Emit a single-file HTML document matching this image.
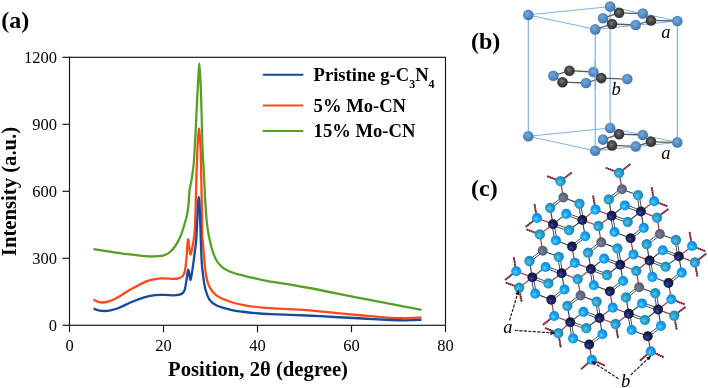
<!DOCTYPE html>
<html><head><meta charset="utf-8"><title>figure</title>
<style>html,body{margin:0;padding:0;background:#fff;}body{width:708px;height:388px;overflow:hidden;font-family:"Liberation Serif",serif;}svg{display:block;will-change:transform;}text{font-family:"Liberation Serif",serif;fill:#000;}</style></head><body>
<svg width="708" height="388" viewBox="0 0 708 388">
<rect x="0" y="0" width="708" height="388" fill="#ffffff"/>
<defs>
<radialGradient id="gT" cx="0.42" cy="0.58" r="0.62" fx="0.42" fy="0.58"><stop offset="0" stop-color="#55c6ea"/><stop offset="0.45" stop-color="#2a9fcf"/><stop offset="1" stop-color="#1b7fb0"/></radialGradient>
<radialGradient id="gB" cx="0.42" cy="0.58" r="0.62" fx="0.42" fy="0.58"><stop offset="0" stop-color="#58dcff"/><stop offset="0.38" stop-color="#1ea6f4"/><stop offset="1" stop-color="#1080da"/></radialGradient>
<radialGradient id="gK" cx="0.4" cy="0.62" r="0.62" fx="0.4" fy="0.62"><stop offset="0" stop-color="#3d62d8"/><stop offset="0.22" stop-color="#23307a"/><stop offset="0.6" stop-color="#191c4a"/><stop offset="1" stop-color="#14163c"/></radialGradient>
<radialGradient id="gG" cx="0.42" cy="0.58" r="0.62" fx="0.42" fy="0.58"><stop offset="0" stop-color="#7f869a"/><stop offset="0.5" stop-color="#626a80"/><stop offset="1" stop-color="#535a70"/></radialGradient>
<radialGradient id="gP" cx="0.42" cy="0.4" r="0.62" fx="0.42" fy="0.4"><stop offset="0" stop-color="#76a8d8"/><stop offset="0.5" stop-color="#578fc6"/><stop offset="0.85" stop-color="#467db5"/><stop offset="1" stop-color="#3a70a8"/></radialGradient>
<radialGradient id="gD" cx="0.45" cy="0.42" r="0.62" fx="0.45" fy="0.42"><stop offset="0" stop-color="#7a7a7a"/><stop offset="0.45" stop-color="#474747"/><stop offset="1" stop-color="#2e2e2e"/></radialGradient>
</defs>
<g id="chart">
<rect x="69.5" y="57.3" width="376" height="268" fill="none" stroke="#141414" stroke-width="1.15"/>
<line x1="62.5" y1="325.3" x2="69.5" y2="325.3" stroke="#141414" stroke-width="1.15"/>
<text x="57" y="330.7" font-size="16.5" text-anchor="end">0</text>
<line x1="62.5" y1="258.3" x2="69.5" y2="258.3" stroke="#141414" stroke-width="1.15"/>
<text x="57" y="263.7" font-size="16.5" text-anchor="end">300</text>
<line x1="62.5" y1="191.3" x2="69.5" y2="191.3" stroke="#141414" stroke-width="1.15"/>
<text x="57" y="196.7" font-size="16.5" text-anchor="end">600</text>
<line x1="62.5" y1="124.3" x2="69.5" y2="124.3" stroke="#141414" stroke-width="1.15"/>
<text x="57" y="129.7" font-size="16.5" text-anchor="end">900</text>
<line x1="62.5" y1="57.3" x2="69.5" y2="57.3" stroke="#141414" stroke-width="1.15"/>
<text x="57" y="62.7" font-size="16.5" text-anchor="end">1200</text>
<line x1="69.5" y1="325.3" x2="69.5" y2="332.3" stroke="#141414" stroke-width="1.15"/>
<text x="69.5" y="350.6" font-size="16.5" text-anchor="middle">0</text>
<line x1="163.5" y1="325.3" x2="163.5" y2="332.3" stroke="#141414" stroke-width="1.15"/>
<text x="163.5" y="350.6" font-size="16.5" text-anchor="middle">20</text>
<line x1="257.5" y1="325.3" x2="257.5" y2="332.3" stroke="#141414" stroke-width="1.15"/>
<text x="257.5" y="350.6" font-size="16.5" text-anchor="middle">40</text>
<line x1="351.5" y1="325.3" x2="351.5" y2="332.3" stroke="#141414" stroke-width="1.15"/>
<text x="351.5" y="350.6" font-size="16.5" text-anchor="middle">60</text>
<line x1="445.5" y1="325.3" x2="445.5" y2="332.3" stroke="#141414" stroke-width="1.15"/>
<text x="445.5" y="350.6" font-size="16.5" text-anchor="middle">80</text>
<path d="M93.5,249.2C96.25,249.62 104.85,250.93 110,251.7C115.15,252.47 118.13,253.02 124.4,253.8C130.67,254.58 141.67,256.03 147.6,256.4C153.53,256.77 157.1,256.23 160,256C162.9,255.77 163.33,255.67 165,255C166.67,254.33 168.28,253.5 170,252C171.72,250.5 173.57,248.58 175.3,246C177.03,243.42 178.93,239.92 180.4,236.5C181.87,233.08 183,229.08 184.1,225.5C185.2,221.92 186.25,218.75 187,215C187.75,211.25 188.17,207.17 188.6,203C189.03,198.83 189.12,193.83 189.6,190C190.08,186.17 190.83,184.17 191.5,180C192.17,175.83 193.08,170 193.6,165C194.12,160 194.25,155.83 194.6,150C194.95,144.17 195.28,138.33 195.7,130C196.12,121.67 196.67,108.67 197.1,100C197.53,91.33 197.93,84.08 198.3,78C198.67,71.92 198.97,63.5 199.3,63.5C199.63,63.5 199.98,71.92 200.3,78C200.62,84.08 200.92,91.33 201.2,100C201.48,108.67 201.77,121.67 202,130C202.23,138.33 202.32,143.33 202.6,150C202.88,156.67 203.35,163.33 203.7,170C204.05,176.67 204.43,184.67 204.7,190C204.97,195.33 204.95,196.67 205.3,202C205.65,207.33 206.23,216.5 206.8,222C207.37,227.5 208.13,231.67 208.7,235C209.27,238.33 209.68,239.75 210.2,242C210.72,244.25 211.25,246.53 211.8,248.5C212.35,250.47 212.67,251.72 213.5,253.8C214.33,255.88 215.42,258.83 216.8,261C218.18,263.17 219.85,265.13 221.8,266.8C223.75,268.47 225.72,269.73 228.5,271C231.28,272.27 234.6,273.28 238.5,274.4C242.4,275.52 247.43,276.67 251.9,277.7C256.37,278.73 256.2,278.97 265.3,280.6C274.4,282.23 290.22,284.5 306.5,287.5C322.78,290.5 343.83,294.87 363,298.6C382.17,302.33 411.75,308.02 421.5,309.9" fill="none" stroke="#589f28" stroke-width="2.3" stroke-linejoin="round" stroke-linecap="butt"/>
<path d="M93.5,299.4C94.17,299.77 96,301.08 97.5,301.6C99,302.12 100.58,302.55 102.5,302.5C104.42,302.45 106.63,302.03 109,301.3C111.37,300.57 112.83,300.22 116.7,298.1C120.57,295.98 127.05,291.48 132.2,288.6C137.35,285.72 142.88,282.5 147.6,280.8C152.32,279.1 156.2,278.73 160.5,278.4C164.8,278.07 170.42,278.82 173.4,278.8C176.38,278.78 176.88,278.72 178.4,278.3C179.92,277.88 181.47,277.35 182.5,276.3C183.53,275.25 183.98,274.38 184.6,272C185.22,269.62 185.77,266 186.2,262C186.63,258 186.88,251.78 187.2,248C187.52,244.22 187.78,239.63 188.1,239.3C188.42,238.97 188.72,243.5 189.1,246C189.48,248.5 189.95,253.55 190.4,254.3C190.85,255.05 191.32,252.55 191.8,250.5C192.28,248.45 192.8,245.42 193.3,242C193.8,238.58 194.4,236.17 194.8,230C195.2,223.83 195.42,214.17 195.7,205C195.98,195.83 196.22,184.17 196.5,175C196.78,165.83 197.12,156.5 197.4,150C197.68,143.5 197.93,139.6 198.2,136C198.47,132.4 198.73,128.4 199,128.4C199.27,128.4 199.52,132.4 199.8,136C200.08,139.6 200.47,143.5 200.7,150C200.93,156.5 201.02,165.83 201.2,175C201.38,184.17 201.62,195 201.8,205C201.98,215 202.07,228.17 202.3,235C202.53,241.83 202.88,242.17 203.2,246C203.52,249.83 203.72,253.08 204.2,258C204.68,262.92 205.2,270.65 206.1,275.5C207,280.35 207.83,283.75 209.6,287.1C211.37,290.45 213.15,293.12 216.7,295.6C220.25,298.08 226.17,300.38 230.9,302C235.63,303.62 240.25,304.4 245.1,305.3C249.95,306.2 254.48,306.85 260,307.4C265.52,307.95 270.45,308.15 278.2,308.6C285.95,309.05 297.08,309.4 306.5,310.1C315.92,310.8 325.28,311.9 334.7,312.8C344.12,313.7 353.58,314.67 363,315.5C372.42,316.33 384.13,317.37 391.2,317.8C398.27,318.23 400.35,318.15 405.4,318.1C410.45,318.05 418.82,317.6 421.5,317.5" fill="none" stroke="#fb4a1c" stroke-width="2.3" stroke-linejoin="round" stroke-linecap="butt"/>
<path d="M93.5,308.5C94.33,308.8 96.57,309.88 98.5,310.3C100.43,310.72 102.93,311.03 105.1,311C107.27,310.97 109.13,310.65 111.5,310.1C113.87,309.55 115.43,309.27 119.3,307.7C123.17,306.13 129.55,302.68 134.7,300.7C139.85,298.72 145.47,296.78 150.2,295.8C154.93,294.82 159.23,294.88 163.1,294.8C166.97,294.72 170.85,295.28 173.4,295.3C175.95,295.32 176.83,295.28 178.4,294.9C179.97,294.52 181.73,293.9 182.8,293C183.87,292.1 184.18,291.67 184.8,289.5C185.42,287.33 186.05,282.75 186.5,280C186.95,277.25 187.18,274.7 187.5,273C187.82,271.3 188.1,269.63 188.4,269.8C188.7,269.97 188.98,272.32 189.3,274C189.62,275.68 189.92,279.73 190.3,279.9C190.68,280.07 191.1,277.75 191.6,275C192.1,272.25 192.77,267.23 193.3,263.4C193.83,259.57 194.32,255.9 194.8,252C195.28,248.1 195.78,245.33 196.2,240C196.62,234.67 196.98,226.17 197.3,220C197.62,213.83 197.85,206.87 198.1,203C198.35,199.13 198.57,196.8 198.8,196.8C199.03,196.8 199.27,199.13 199.5,203C199.73,206.87 199.98,213.83 200.2,220C200.42,226.17 200.53,232.77 200.8,240C201.07,247.23 201.38,257.23 201.8,263.4C202.22,269.57 202.7,272.7 203.3,277C203.9,281.3 204.35,285.4 205.4,289.2C206.45,293 207.72,297.08 209.6,299.8C211.48,302.52 213.15,303.83 216.7,305.5C220.25,307.17 226.17,308.72 230.9,309.8C235.63,310.88 240.25,311.38 245.1,312C249.95,312.62 254.48,313.12 260,313.5C265.52,313.88 270.45,313.97 278.2,314.3C285.95,314.63 297.08,315.05 306.5,315.5C315.92,315.95 325.28,316.5 334.7,317C344.12,317.5 353.58,318 363,318.5C372.42,319 384.13,319.7 391.2,320C398.27,320.3 400.35,320.33 405.4,320.3C410.45,320.27 418.82,319.88 421.5,319.8" fill="none" stroke="#17499c" stroke-width="2.3" stroke-linejoin="round" stroke-linecap="butt"/>
<line x1="262.8" y1="74.8" x2="303.3" y2="74.8" stroke="#17499c" stroke-width="2"/>
<line x1="262.8" y1="105.6" x2="303.3" y2="105.6" stroke="#fb4a1c" stroke-width="2"/>
<line x1="262.8" y1="131" x2="303.3" y2="131" stroke="#589f28" stroke-width="2"/>
<text x="313.6" y="80.8" font-size="18.6" font-weight="bold">Pristine g-C<tspan dy="6.8" font-size="12">3</tspan><tspan dy="-6.8" font-size="18.6">N</tspan><tspan dy="6.8" font-size="12">4</tspan></text>
<text x="313.6" y="112.1" font-size="18.6" font-weight="bold">5% Mo-CN</text>
<text x="313.6" y="137.1" font-size="18.6" font-weight="bold">15% Mo-CN</text>
<text x="258" y="376.1" font-size="20.7" font-weight="bold" text-anchor="middle">Position, 2θ (degree)</text>
<text transform="translate(15.6,191.5) rotate(-90)" font-size="20.7" font-weight="bold" text-anchor="middle">Intensity (a.u.)</text>
</g>
<text x="1.2" y="27.8" font-size="24" font-weight="bold">(a)</text>
<text x="471.0" y="48.7" font-size="24" font-weight="bold">(b)</text>
<text x="471.0" y="196.1" font-size="24" font-weight="bold">(c)</text>
<g id="cell">
<line x1="528.3" y1="14.9" x2="610.1" y2="6.6" stroke="#78ade0" stroke-width="0.95" />
<line x1="528.3" y1="136.3" x2="610.1" y2="128" stroke="#78ade0" stroke-width="0.95" />
<line x1="610.1" y1="6.6" x2="677.3" y2="21" stroke="#78ade0" stroke-width="0.95" />
<line x1="610.1" y1="128" x2="677.3" y2="142.4" stroke="#78ade0" stroke-width="0.95" />
<line x1="528.3" y1="14.9" x2="595.2" y2="29.4" stroke="#78ade0" stroke-width="0.95" />
<line x1="528.3" y1="136.3" x2="595.2" y2="150.8" stroke="#78ade0" stroke-width="0.95" />
<line x1="595.2" y1="29.4" x2="677.3" y2="21" stroke="#78ade0" stroke-width="0.95" />
<line x1="595.2" y1="150.8" x2="677.3" y2="142.4" stroke="#78ade0" stroke-width="0.95" />
<line x1="528.3" y1="14.9" x2="528.3" y2="136.3" stroke="#78ade0" stroke-width="1.1" />
<line x1="610.1" y1="6.6" x2="610.1" y2="128" stroke="#78ade0" stroke-width="1.1" />
<line x1="595.2" y1="29.4" x2="595.2" y2="150.8" stroke="#78ade0" stroke-width="1.1" />
<line x1="677.3" y1="21" x2="677.3" y2="142.4" stroke="#78ade0" stroke-width="1.1" />
<line x1="603" y1="18.2" x2="619.1" y2="12.8" stroke="#5c5c5c" stroke-width="1.3" />
<line x1="619.1" y1="12.8" x2="642.8" y2="13.6" stroke="#5c5c5c" stroke-width="1.3" />
<line x1="642.8" y1="13.6" x2="651" y2="20.4" stroke="#5c5c5c" stroke-width="1.3" />
<line x1="651" y1="20.4" x2="635.7" y2="25" stroke="#5c5c5c" stroke-width="1.3" />
<line x1="635.7" y1="25" x2="612" y2="24" stroke="#5c5c5c" stroke-width="1.3" />
<line x1="612" y1="24" x2="603" y2="18.2" stroke="#5c5c5c" stroke-width="1.3" />
<line x1="651" y1="20.4" x2="677.3" y2="21" stroke="#5c5c5c" stroke-width="1.3" />
<line x1="612" y1="24" x2="595.2" y2="29.4" stroke="#5c5c5c" stroke-width="1.3" />
<line x1="619.1" y1="12.8" x2="610.1" y2="6.6" stroke="#5c5c5c" stroke-width="1.3" />
<circle cx="610.1" cy="6.6" r="5.3" fill="url(#gP)"/>
<circle cx="603" cy="18.2" r="5.3" fill="url(#gP)"/>
<circle cx="619.1" cy="12.8" r="5.3" fill="url(#gD)"/>
<circle cx="642.8" cy="13.6" r="5.3" fill="url(#gP)"/>
<circle cx="612" cy="24" r="5.3" fill="url(#gD)"/>
<circle cx="635.7" cy="25" r="5.3" fill="url(#gP)"/>
<circle cx="651" cy="20.4" r="5.3" fill="url(#gD)"/>
<circle cx="595.2" cy="29.4" r="5.3" fill="url(#gP)"/>
<circle cx="677.3" cy="21" r="5.3" fill="url(#gP)"/>
<circle cx="528.3" cy="14.9" r="5.3" fill="url(#gP)"/>
<line x1="553.3" y1="75.8" x2="569.4" y2="70.7" stroke="#5c5c5c" stroke-width="1.3" />
<line x1="569.4" y1="70.7" x2="593.4" y2="72" stroke="#5c5c5c" stroke-width="1.3" />
<line x1="593.4" y1="72" x2="601.3" y2="78.1" stroke="#5c5c5c" stroke-width="1.3" />
<line x1="601.3" y1="78.1" x2="586" y2="83" stroke="#5c5c5c" stroke-width="1.3" />
<line x1="586" y1="83" x2="562.5" y2="82.2" stroke="#5c5c5c" stroke-width="1.3" />
<line x1="562.5" y1="82.2" x2="553.3" y2="75.8" stroke="#5c5c5c" stroke-width="1.3" />
<line x1="601.3" y1="78.1" x2="627.3" y2="79.1" stroke="#5c5c5c" stroke-width="1.3" />
<circle cx="553.3" cy="75.8" r="5.3" fill="url(#gP)"/>
<circle cx="569.4" cy="70.7" r="5.3" fill="url(#gD)"/>
<circle cx="593.4" cy="72" r="5.3" fill="url(#gP)"/>
<circle cx="562.5" cy="82.2" r="5.3" fill="url(#gD)"/>
<circle cx="586" cy="83" r="5.3" fill="url(#gP)"/>
<circle cx="601.3" cy="78.1" r="5.3" fill="url(#gD)"/>
<circle cx="627.3" cy="79.1" r="5.3" fill="url(#gP)"/>
<line x1="595.2" y1="60" x2="595.2" y2="90" stroke="#78ade0" stroke-width="1.4" opacity="0.75"/>
<line x1="603" y1="139.6" x2="619.1" y2="134.2" stroke="#5c5c5c" stroke-width="1.3" />
<line x1="619.1" y1="134.2" x2="642.8" y2="135" stroke="#5c5c5c" stroke-width="1.3" />
<line x1="642.8" y1="135" x2="651" y2="141.8" stroke="#5c5c5c" stroke-width="1.3" />
<line x1="651" y1="141.8" x2="635.7" y2="146.4" stroke="#5c5c5c" stroke-width="1.3" />
<line x1="635.7" y1="146.4" x2="612" y2="145.4" stroke="#5c5c5c" stroke-width="1.3" />
<line x1="612" y1="145.4" x2="603" y2="139.6" stroke="#5c5c5c" stroke-width="1.3" />
<line x1="651" y1="141.8" x2="677.3" y2="142.4" stroke="#5c5c5c" stroke-width="1.3" />
<line x1="612" y1="145.4" x2="595.2" y2="150.8" stroke="#5c5c5c" stroke-width="1.3" />
<line x1="619.1" y1="134.2" x2="610.1" y2="128" stroke="#5c5c5c" stroke-width="1.3" />
<circle cx="610.1" cy="128" r="5.3" fill="url(#gP)"/>
<circle cx="603" cy="139.6" r="5.3" fill="url(#gP)"/>
<circle cx="619.1" cy="134.2" r="5.3" fill="url(#gD)"/>
<circle cx="642.8" cy="135" r="5.3" fill="url(#gP)"/>
<circle cx="612" cy="145.4" r="5.3" fill="url(#gD)"/>
<circle cx="635.7" cy="146.4" r="5.3" fill="url(#gP)"/>
<circle cx="651" cy="141.8" r="5.3" fill="url(#gD)"/>
<circle cx="595.2" cy="150.8" r="5.3" fill="url(#gP)"/>
<circle cx="677.3" cy="142.4" r="5.3" fill="url(#gP)"/>
<circle cx="528.3" cy="136.3" r="5.3" fill="url(#gP)"/>
<text x="661.2" y="37.8" font-size="18.5" font-style="italic">a</text>
<text x="611.6" y="95.1" font-size="18.5" font-style="italic">b</text>
<text x="661.2" y="158.9" font-size="18.5" font-style="italic">a</text>
</g>
<g id="sheet">
<line x1="519.1" y1="287.6" x2="521.6" y2="301.88" stroke="#a8606e" stroke-width="1.7" />
<line x1="519.1" y1="287.6" x2="521.6" y2="301.88" stroke="#6a1e32" stroke-width="1.9" stroke-dasharray="1.2 0.9"/>
<line x1="519.1" y1="287.6" x2="532.32" y2="277.37" stroke="#a63a42" stroke-width="1.2" />
<line x1="519.1" y1="287.6" x2="505.52" y2="282.51" stroke="#a8606e" stroke-width="1.7" />
<line x1="519.1" y1="287.6" x2="505.52" y2="282.51" stroke="#6a1e32" stroke-width="1.9" stroke-dasharray="1.2 0.9"/>
<line x1="558.3" y1="333.2" x2="560.8" y2="347.48" stroke="#a8606e" stroke-width="1.7" />
<line x1="558.3" y1="333.2" x2="560.8" y2="347.48" stroke="#6a1e32" stroke-width="1.9" stroke-dasharray="1.2 0.9"/>
<line x1="558.3" y1="333.2" x2="570.22" y2="322.17" stroke="#a63a42" stroke-width="1.2" />
<line x1="558.3" y1="333.2" x2="544.8" y2="327.9" stroke="#a8606e" stroke-width="1.7" />
<line x1="558.3" y1="333.2" x2="544.8" y2="327.9" stroke="#6a1e32" stroke-width="1.9" stroke-dasharray="1.2 0.9"/>
<line x1="529.45" y1="261" x2="532.32" y2="277.37" stroke="#33474d" stroke-width="1.15" />
<line x1="530.09" y1="261.83" x2="543.31" y2="251.6" stroke="#33474d" stroke-width="0.95" />
<line x1="528.81" y1="260.17" x2="542.03" y2="249.94" stroke="#33474d" stroke-width="0.95" />
<line x1="548.4" y1="283.4" x2="561.62" y2="273.17" stroke="#33474d" stroke-width="1.15" />
<line x1="548.77" y1="282.42" x2="532.69" y2="276.39" stroke="#33474d" stroke-width="0.95" />
<line x1="548.03" y1="284.38" x2="531.95" y2="278.35" stroke="#33474d" stroke-width="0.95" />
<line x1="567.35" y1="305.8" x2="570.22" y2="322.17" stroke="#33474d" stroke-width="1.15" />
<line x1="567.99" y1="306.63" x2="581.21" y2="296.4" stroke="#33474d" stroke-width="0.95" />
<line x1="566.71" y1="304.97" x2="579.93" y2="294.74" stroke="#33474d" stroke-width="0.95" />
<line x1="586.3" y1="328.2" x2="599.52" y2="317.97" stroke="#33474d" stroke-width="1.15" />
<line x1="586.67" y1="327.22" x2="570.59" y2="321.19" stroke="#33474d" stroke-width="0.95" />
<line x1="585.93" y1="329.18" x2="569.85" y2="323.15" stroke="#33474d" stroke-width="0.95" />
<line x1="539.8" y1="234.4" x2="542.67" y2="250.77" stroke="#a63a42" stroke-width="1.2" />
<line x1="539.8" y1="234.4" x2="553.02" y2="224.17" stroke="#a63a42" stroke-width="1.2" />
<line x1="539.8" y1="234.4" x2="526.22" y2="229.31" stroke="#a8606e" stroke-width="1.7" />
<line x1="539.8" y1="234.4" x2="526.22" y2="229.31" stroke="#6a1e32" stroke-width="1.9" stroke-dasharray="1.2 0.9"/>
<line x1="557.72" y1="256.98" x2="560.59" y2="273.35" stroke="#33474d" stroke-width="0.95" />
<line x1="559.78" y1="256.62" x2="562.65" y2="272.99" stroke="#33474d" stroke-width="0.95" />
<line x1="558.75" y1="256.8" x2="542.67" y2="250.77" stroke="#33474d" stroke-width="1.15" />
<line x1="577.7" y1="279.2" x2="580.57" y2="295.57" stroke="#a63a42" stroke-width="1.2" />
<line x1="577.7" y1="279.2" x2="590.92" y2="268.97" stroke="#a63a42" stroke-width="1.2" />
<line x1="577.7" y1="279.2" x2="561.62" y2="273.17" stroke="#a63a42" stroke-width="1.2" />
<line x1="595.62" y1="301.78" x2="598.49" y2="318.15" stroke="#33474d" stroke-width="0.95" />
<line x1="597.68" y1="301.42" x2="600.55" y2="317.79" stroke="#33474d" stroke-width="0.95" />
<line x1="596.65" y1="301.6" x2="580.57" y2="295.57" stroke="#33474d" stroke-width="1.15" />
<line x1="615.6" y1="324" x2="618.1" y2="338.28" stroke="#a8606e" stroke-width="1.7" />
<line x1="615.6" y1="324" x2="618.1" y2="338.28" stroke="#6a1e32" stroke-width="1.9" stroke-dasharray="1.2 0.9"/>
<line x1="615.6" y1="324" x2="628.82" y2="313.77" stroke="#a63a42" stroke-width="1.2" />
<line x1="615.6" y1="324" x2="599.52" y2="317.97" stroke="#a63a42" stroke-width="1.2" />
<line x1="550.15" y1="207.8" x2="553.02" y2="224.17" stroke="#33474d" stroke-width="1.15" />
<line x1="550.79" y1="208.63" x2="564.01" y2="198.4" stroke="#33474d" stroke-width="0.95" />
<line x1="549.51" y1="206.97" x2="562.73" y2="196.74" stroke="#33474d" stroke-width="0.95" />
<line x1="569.1" y1="230.2" x2="582.32" y2="219.97" stroke="#33474d" stroke-width="1.15" />
<line x1="569.47" y1="229.22" x2="553.39" y2="223.19" stroke="#33474d" stroke-width="0.95" />
<line x1="568.73" y1="231.18" x2="552.65" y2="225.15" stroke="#33474d" stroke-width="0.95" />
<line x1="588.05" y1="252.6" x2="590.92" y2="268.97" stroke="#33474d" stroke-width="1.15" />
<line x1="588.69" y1="253.43" x2="601.91" y2="243.2" stroke="#33474d" stroke-width="0.95" />
<line x1="587.41" y1="251.77" x2="600.63" y2="241.54" stroke="#33474d" stroke-width="0.95" />
<line x1="607" y1="275" x2="620.22" y2="264.77" stroke="#33474d" stroke-width="1.15" />
<line x1="607.37" y1="274.02" x2="591.29" y2="267.99" stroke="#33474d" stroke-width="0.95" />
<line x1="606.63" y1="275.98" x2="590.55" y2="269.95" stroke="#33474d" stroke-width="0.95" />
<line x1="625.95" y1="297.4" x2="628.82" y2="313.77" stroke="#33474d" stroke-width="1.15" />
<line x1="626.59" y1="298.23" x2="639.81" y2="288" stroke="#33474d" stroke-width="0.95" />
<line x1="625.31" y1="296.57" x2="638.53" y2="286.34" stroke="#33474d" stroke-width="0.95" />
<line x1="644.9" y1="319.8" x2="658.12" y2="309.57" stroke="#33474d" stroke-width="1.15" />
<line x1="645.27" y1="318.82" x2="629.19" y2="312.79" stroke="#33474d" stroke-width="0.95" />
<line x1="644.53" y1="320.78" x2="628.45" y2="314.75" stroke="#33474d" stroke-width="0.95" />
<line x1="560.5" y1="181.2" x2="563.37" y2="197.57" stroke="#a63a42" stroke-width="1.2" />
<line x1="560.5" y1="181.2" x2="571.97" y2="172.33" stroke="#a8606e" stroke-width="1.7" />
<line x1="560.5" y1="181.2" x2="571.97" y2="172.33" stroke="#6a1e32" stroke-width="1.9" stroke-dasharray="1.2 0.9"/>
<line x1="560.5" y1="181.2" x2="546.92" y2="176.11" stroke="#a8606e" stroke-width="1.7" />
<line x1="560.5" y1="181.2" x2="546.92" y2="176.11" stroke="#6a1e32" stroke-width="1.9" stroke-dasharray="1.2 0.9"/>
<line x1="578.42" y1="203.78" x2="581.29" y2="220.15" stroke="#33474d" stroke-width="0.95" />
<line x1="580.48" y1="203.42" x2="583.35" y2="219.79" stroke="#33474d" stroke-width="0.95" />
<line x1="579.45" y1="203.6" x2="563.37" y2="197.57" stroke="#33474d" stroke-width="1.15" />
<line x1="598.4" y1="226" x2="601.27" y2="242.37" stroke="#a63a42" stroke-width="1.2" />
<line x1="598.4" y1="226" x2="611.62" y2="215.77" stroke="#a63a42" stroke-width="1.2" />
<line x1="598.4" y1="226" x2="582.32" y2="219.97" stroke="#a63a42" stroke-width="1.2" />
<line x1="616.32" y1="248.58" x2="619.19" y2="264.95" stroke="#33474d" stroke-width="0.95" />
<line x1="618.38" y1="248.22" x2="621.25" y2="264.59" stroke="#33474d" stroke-width="0.95" />
<line x1="617.35" y1="248.4" x2="601.27" y2="242.37" stroke="#33474d" stroke-width="1.15" />
<line x1="636.3" y1="270.8" x2="639.17" y2="287.17" stroke="#a63a42" stroke-width="1.2" />
<line x1="636.3" y1="270.8" x2="649.52" y2="260.57" stroke="#a63a42" stroke-width="1.2" />
<line x1="636.3" y1="270.8" x2="620.22" y2="264.77" stroke="#a63a42" stroke-width="1.2" />
<line x1="654.22" y1="293.38" x2="657.09" y2="309.75" stroke="#33474d" stroke-width="0.95" />
<line x1="656.28" y1="293.02" x2="659.15" y2="309.39" stroke="#33474d" stroke-width="0.95" />
<line x1="655.25" y1="293.2" x2="639.17" y2="287.17" stroke="#33474d" stroke-width="1.15" />
<line x1="674.2" y1="315.6" x2="676.7" y2="329.88" stroke="#a8606e" stroke-width="1.7" />
<line x1="674.2" y1="315.6" x2="676.7" y2="329.88" stroke="#6a1e32" stroke-width="1.9" stroke-dasharray="1.2 0.9"/>
<line x1="674.2" y1="315.6" x2="685.67" y2="306.73" stroke="#a8606e" stroke-width="1.7" />
<line x1="674.2" y1="315.6" x2="685.67" y2="306.73" stroke="#6a1e32" stroke-width="1.9" stroke-dasharray="1.2 0.9"/>
<line x1="674.2" y1="315.6" x2="658.12" y2="309.57" stroke="#a63a42" stroke-width="1.2" />
<line x1="608.75" y1="199.4" x2="611.62" y2="215.77" stroke="#33474d" stroke-width="1.15" />
<line x1="609.39" y1="200.23" x2="622.61" y2="190" stroke="#33474d" stroke-width="0.95" />
<line x1="608.11" y1="198.57" x2="621.33" y2="188.34" stroke="#33474d" stroke-width="0.95" />
<line x1="627.7" y1="221.8" x2="640.92" y2="211.57" stroke="#33474d" stroke-width="1.15" />
<line x1="628.07" y1="220.82" x2="611.99" y2="214.79" stroke="#33474d" stroke-width="0.95" />
<line x1="627.33" y1="222.78" x2="611.25" y2="216.75" stroke="#33474d" stroke-width="0.95" />
<line x1="646.65" y1="244.2" x2="649.52" y2="260.57" stroke="#33474d" stroke-width="1.15" />
<line x1="647.29" y1="245.03" x2="660.51" y2="234.8" stroke="#33474d" stroke-width="0.95" />
<line x1="646.01" y1="243.37" x2="659.23" y2="233.14" stroke="#33474d" stroke-width="0.95" />
<line x1="665.6" y1="266.6" x2="678.82" y2="256.37" stroke="#33474d" stroke-width="1.15" />
<line x1="665.97" y1="265.62" x2="649.89" y2="259.59" stroke="#33474d" stroke-width="0.95" />
<line x1="665.23" y1="267.58" x2="649.15" y2="261.55" stroke="#33474d" stroke-width="0.95" />
<line x1="619.1" y1="172.8" x2="621.97" y2="189.17" stroke="#a63a42" stroke-width="1.2" />
<line x1="619.1" y1="172.8" x2="630.57" y2="163.93" stroke="#a8606e" stroke-width="1.7" />
<line x1="619.1" y1="172.8" x2="630.57" y2="163.93" stroke="#6a1e32" stroke-width="1.9" stroke-dasharray="1.2 0.9"/>
<line x1="619.1" y1="172.8" x2="605.52" y2="167.71" stroke="#a8606e" stroke-width="1.7" />
<line x1="619.1" y1="172.8" x2="605.52" y2="167.71" stroke="#6a1e32" stroke-width="1.9" stroke-dasharray="1.2 0.9"/>
<line x1="637.02" y1="195.38" x2="639.89" y2="211.75" stroke="#33474d" stroke-width="0.95" />
<line x1="639.08" y1="195.02" x2="641.95" y2="211.39" stroke="#33474d" stroke-width="0.95" />
<line x1="638.05" y1="195.2" x2="621.97" y2="189.17" stroke="#33474d" stroke-width="1.15" />
<line x1="657" y1="217.6" x2="659.87" y2="233.97" stroke="#a63a42" stroke-width="1.2" />
<line x1="657" y1="217.6" x2="668.47" y2="208.73" stroke="#a8606e" stroke-width="1.7" />
<line x1="657" y1="217.6" x2="668.47" y2="208.73" stroke="#6a1e32" stroke-width="1.9" stroke-dasharray="1.2 0.9"/>
<line x1="657" y1="217.6" x2="640.92" y2="211.57" stroke="#a63a42" stroke-width="1.2" />
<line x1="674.92" y1="240.18" x2="677.79" y2="256.55" stroke="#33474d" stroke-width="0.95" />
<line x1="676.98" y1="239.82" x2="679.85" y2="256.19" stroke="#33474d" stroke-width="0.95" />
<line x1="675.95" y1="240" x2="659.87" y2="233.97" stroke="#33474d" stroke-width="1.15" />
<line x1="694.9" y1="262.4" x2="697.4" y2="276.68" stroke="#a8606e" stroke-width="1.7" />
<line x1="694.9" y1="262.4" x2="697.4" y2="276.68" stroke="#6a1e32" stroke-width="1.9" stroke-dasharray="1.2 0.9"/>
<line x1="694.9" y1="262.4" x2="706.37" y2="253.53" stroke="#a8606e" stroke-width="1.7" />
<line x1="694.9" y1="262.4" x2="706.37" y2="253.53" stroke="#6a1e32" stroke-width="1.9" stroke-dasharray="1.2 0.9"/>
<line x1="694.9" y1="262.4" x2="678.82" y2="256.37" stroke="#a63a42" stroke-width="1.2" />
<circle cx="542.67" cy="250.77" r="5" fill="url(#gG)"/>
<circle cx="580.57" cy="295.57" r="5" fill="url(#gG)"/>
<circle cx="563.37" cy="197.57" r="5" fill="url(#gG)"/>
<circle cx="601.27" cy="242.37" r="5" fill="url(#gG)"/>
<circle cx="639.17" cy="287.17" r="5" fill="url(#gG)"/>
<circle cx="621.97" cy="189.17" r="5" fill="url(#gG)"/>
<circle cx="659.87" cy="233.97" r="5" fill="url(#gG)"/>
<circle cx="560.5" cy="181.2" r="5.15" fill="url(#gT)"/>
<circle cx="619.1" cy="172.8" r="5.15" fill="url(#gT)"/>
<circle cx="550.15" cy="207.8" r="5.15" fill="url(#gT)"/>
<circle cx="579.45" cy="203.6" r="5.15" fill="url(#gT)"/>
<circle cx="608.75" cy="199.4" r="5.15" fill="url(#gT)"/>
<circle cx="638.05" cy="195.2" r="5.15" fill="url(#gT)"/>
<circle cx="539.8" cy="234.4" r="5.15" fill="url(#gT)"/>
<circle cx="569.1" cy="230.2" r="5.15" fill="url(#gT)"/>
<circle cx="598.4" cy="226" r="5.15" fill="url(#gT)"/>
<circle cx="627.7" cy="221.8" r="5.15" fill="url(#gT)"/>
<circle cx="657" cy="217.6" r="5.15" fill="url(#gT)"/>
<circle cx="529.45" cy="261" r="5.15" fill="url(#gT)"/>
<circle cx="558.75" cy="256.8" r="5.15" fill="url(#gT)"/>
<circle cx="588.05" cy="252.6" r="5.15" fill="url(#gT)"/>
<circle cx="617.35" cy="248.4" r="5.15" fill="url(#gT)"/>
<circle cx="646.65" cy="244.2" r="5.15" fill="url(#gT)"/>
<circle cx="675.95" cy="240" r="5.15" fill="url(#gT)"/>
<circle cx="519.1" cy="287.6" r="5.15" fill="url(#gT)"/>
<circle cx="548.4" cy="283.4" r="5.15" fill="url(#gT)"/>
<circle cx="577.7" cy="279.2" r="5.15" fill="url(#gT)"/>
<circle cx="607" cy="275" r="5.15" fill="url(#gT)"/>
<circle cx="636.3" cy="270.8" r="5.15" fill="url(#gT)"/>
<circle cx="665.6" cy="266.6" r="5.15" fill="url(#gT)"/>
<circle cx="694.9" cy="262.4" r="5.15" fill="url(#gT)"/>
<circle cx="567.35" cy="305.8" r="5.15" fill="url(#gT)"/>
<circle cx="596.65" cy="301.6" r="5.15" fill="url(#gT)"/>
<circle cx="625.95" cy="297.4" r="5.15" fill="url(#gT)"/>
<circle cx="655.25" cy="293.2" r="5.15" fill="url(#gT)"/>
<circle cx="558.3" cy="333.2" r="5.15" fill="url(#gT)"/>
<circle cx="586.3" cy="328.2" r="5.15" fill="url(#gT)"/>
<circle cx="615.6" cy="324" r="5.15" fill="url(#gT)"/>
<circle cx="644.9" cy="319.8" r="5.15" fill="url(#gT)"/>
<circle cx="674.2" cy="315.6" r="5.15" fill="url(#gT)"/>
<line x1="516.23" y1="271.23" x2="504.81" y2="280.17" stroke="#a8606e" stroke-width="1.7" />
<line x1="516.23" y1="271.23" x2="504.81" y2="280.17" stroke="#6a1e32" stroke-width="1.9" stroke-dasharray="1.2 0.9"/>
<line x1="516.23" y1="271.23" x2="513.72" y2="256.95" stroke="#a8606e" stroke-width="1.7" />
<line x1="516.23" y1="271.23" x2="513.72" y2="256.95" stroke="#6a1e32" stroke-width="1.9" stroke-dasharray="1.2 0.9"/>
<line x1="516.23" y1="271.23" x2="532.32" y2="277.37" stroke="#a63a42" stroke-width="1.2" />
<line x1="536.21" y1="293.45" x2="533.35" y2="277.19" stroke="#33474d" stroke-width="0.95" />
<line x1="534.15" y1="293.81" x2="531.29" y2="277.55" stroke="#33474d" stroke-width="0.95" />
<line x1="535.18" y1="293.63" x2="551.27" y2="299.77" stroke="#33474d" stroke-width="1.15" />
<line x1="554.13" y1="316.03" x2="542.71" y2="324.97" stroke="#a8606e" stroke-width="1.7" />
<line x1="554.13" y1="316.03" x2="542.71" y2="324.97" stroke="#6a1e32" stroke-width="1.9" stroke-dasharray="1.2 0.9"/>
<line x1="554.13" y1="316.03" x2="551.27" y2="299.77" stroke="#a63a42" stroke-width="1.2" />
<line x1="554.13" y1="316.03" x2="570.22" y2="322.17" stroke="#a63a42" stroke-width="1.2" />
<line x1="574.11" y1="338.25" x2="571.25" y2="321.99" stroke="#33474d" stroke-width="0.95" />
<line x1="572.05" y1="338.61" x2="569.19" y2="322.35" stroke="#33474d" stroke-width="0.95" />
<line x1="573.08" y1="338.43" x2="589.17" y2="344.57" stroke="#33474d" stroke-width="1.15" />
<line x1="591.8" y1="359.8" x2="580.89" y2="369.35" stroke="#a8606e" stroke-width="1.7" />
<line x1="591.8" y1="359.8" x2="580.89" y2="369.35" stroke="#6a1e32" stroke-width="1.9" stroke-dasharray="1.2 0.9"/>
<line x1="591.8" y1="359.8" x2="589.17" y2="344.57" stroke="#a63a42" stroke-width="1.2" />
<line x1="591.8" y1="359.8" x2="605.08" y2="365.63" stroke="#a8606e" stroke-width="1.7" />
<line x1="591.8" y1="359.8" x2="605.08" y2="365.63" stroke="#6a1e32" stroke-width="1.9" stroke-dasharray="1.2 0.9"/>
<line x1="545.53" y1="267.03" x2="532.32" y2="277.37" stroke="#33474d" stroke-width="1.15" />
<line x1="545.16" y1="268.01" x2="561.25" y2="274.15" stroke="#33474d" stroke-width="0.95" />
<line x1="545.9" y1="266.05" x2="561.99" y2="272.19" stroke="#33474d" stroke-width="0.95" />
<line x1="563.83" y1="288.6" x2="550.62" y2="298.94" stroke="#33474d" stroke-width="0.95" />
<line x1="565.13" y1="290.26" x2="551.92" y2="300.6" stroke="#33474d" stroke-width="0.95" />
<line x1="564.48" y1="289.43" x2="561.62" y2="273.17" stroke="#33474d" stroke-width="1.15" />
<line x1="583.43" y1="311.83" x2="570.22" y2="322.17" stroke="#33474d" stroke-width="1.15" />
<line x1="583.06" y1="312.81" x2="599.15" y2="318.95" stroke="#33474d" stroke-width="0.95" />
<line x1="583.8" y1="310.85" x2="599.89" y2="316.99" stroke="#33474d" stroke-width="0.95" />
<line x1="601.73" y1="333.4" x2="588.52" y2="343.74" stroke="#33474d" stroke-width="0.95" />
<line x1="603.03" y1="335.06" x2="589.82" y2="345.4" stroke="#33474d" stroke-width="0.95" />
<line x1="602.38" y1="334.23" x2="599.52" y2="317.97" stroke="#33474d" stroke-width="1.15" />
<line x1="536.93" y1="218.03" x2="525.51" y2="226.97" stroke="#a8606e" stroke-width="1.7" />
<line x1="536.93" y1="218.03" x2="525.51" y2="226.97" stroke="#6a1e32" stroke-width="1.9" stroke-dasharray="1.2 0.9"/>
<line x1="536.93" y1="218.03" x2="534.42" y2="203.75" stroke="#a8606e" stroke-width="1.7" />
<line x1="536.93" y1="218.03" x2="534.42" y2="203.75" stroke="#6a1e32" stroke-width="1.9" stroke-dasharray="1.2 0.9"/>
<line x1="536.93" y1="218.03" x2="553.02" y2="224.17" stroke="#a63a42" stroke-width="1.2" />
<line x1="556.91" y1="240.25" x2="554.05" y2="223.99" stroke="#33474d" stroke-width="0.95" />
<line x1="554.85" y1="240.61" x2="551.99" y2="224.35" stroke="#33474d" stroke-width="0.95" />
<line x1="555.88" y1="240.43" x2="571.97" y2="246.57" stroke="#33474d" stroke-width="1.15" />
<line x1="574.83" y1="262.83" x2="561.62" y2="273.17" stroke="#a63a42" stroke-width="1.2" />
<line x1="574.83" y1="262.83" x2="571.97" y2="246.57" stroke="#a63a42" stroke-width="1.2" />
<line x1="574.83" y1="262.83" x2="590.92" y2="268.97" stroke="#a63a42" stroke-width="1.2" />
<line x1="594.81" y1="285.05" x2="591.95" y2="268.79" stroke="#33474d" stroke-width="0.95" />
<line x1="592.75" y1="285.41" x2="589.89" y2="269.15" stroke="#33474d" stroke-width="0.95" />
<line x1="593.78" y1="285.23" x2="609.87" y2="291.37" stroke="#33474d" stroke-width="1.15" />
<line x1="612.73" y1="307.63" x2="599.52" y2="317.97" stroke="#a63a42" stroke-width="1.2" />
<line x1="612.73" y1="307.63" x2="609.87" y2="291.37" stroke="#a63a42" stroke-width="1.2" />
<line x1="612.73" y1="307.63" x2="628.82" y2="313.77" stroke="#a63a42" stroke-width="1.2" />
<line x1="632.71" y1="329.85" x2="629.85" y2="313.59" stroke="#33474d" stroke-width="0.95" />
<line x1="630.65" y1="330.21" x2="627.79" y2="313.95" stroke="#33474d" stroke-width="0.95" />
<line x1="631.68" y1="330.03" x2="647.77" y2="336.17" stroke="#33474d" stroke-width="1.15" />
<line x1="650.8" y1="351.3" x2="639.79" y2="360.74" stroke="#a8606e" stroke-width="1.7" />
<line x1="650.8" y1="351.3" x2="639.79" y2="360.74" stroke="#6a1e32" stroke-width="1.9" stroke-dasharray="1.2 0.9"/>
<line x1="650.8" y1="351.3" x2="647.77" y2="336.17" stroke="#a63a42" stroke-width="1.2" />
<line x1="650.8" y1="351.3" x2="663.99" y2="357.32" stroke="#a8606e" stroke-width="1.7" />
<line x1="650.8" y1="351.3" x2="663.99" y2="357.32" stroke="#6a1e32" stroke-width="1.9" stroke-dasharray="1.2 0.9"/>
<line x1="566.23" y1="213.83" x2="553.02" y2="224.17" stroke="#33474d" stroke-width="1.15" />
<line x1="565.86" y1="214.81" x2="581.95" y2="220.95" stroke="#33474d" stroke-width="0.95" />
<line x1="566.6" y1="212.85" x2="582.69" y2="218.99" stroke="#33474d" stroke-width="0.95" />
<line x1="584.53" y1="235.4" x2="571.32" y2="245.74" stroke="#33474d" stroke-width="0.95" />
<line x1="585.83" y1="237.06" x2="572.62" y2="247.4" stroke="#33474d" stroke-width="0.95" />
<line x1="585.18" y1="236.23" x2="582.32" y2="219.97" stroke="#33474d" stroke-width="1.15" />
<line x1="604.13" y1="258.63" x2="590.92" y2="268.97" stroke="#33474d" stroke-width="1.15" />
<line x1="603.76" y1="259.61" x2="619.85" y2="265.75" stroke="#33474d" stroke-width="0.95" />
<line x1="604.5" y1="257.65" x2="620.59" y2="263.79" stroke="#33474d" stroke-width="0.95" />
<line x1="622.43" y1="280.2" x2="609.22" y2="290.54" stroke="#33474d" stroke-width="0.95" />
<line x1="623.73" y1="281.86" x2="610.52" y2="292.2" stroke="#33474d" stroke-width="0.95" />
<line x1="623.08" y1="281.03" x2="620.22" y2="264.77" stroke="#33474d" stroke-width="1.15" />
<line x1="642.03" y1="303.43" x2="628.82" y2="313.77" stroke="#33474d" stroke-width="1.15" />
<line x1="641.66" y1="304.41" x2="657.75" y2="310.55" stroke="#33474d" stroke-width="0.95" />
<line x1="642.4" y1="302.45" x2="658.49" y2="308.59" stroke="#33474d" stroke-width="0.95" />
<line x1="660.33" y1="325" x2="647.12" y2="335.34" stroke="#33474d" stroke-width="0.95" />
<line x1="661.63" y1="326.66" x2="648.42" y2="337" stroke="#33474d" stroke-width="0.95" />
<line x1="660.98" y1="325.83" x2="658.12" y2="309.57" stroke="#33474d" stroke-width="1.15" />
<line x1="595.53" y1="209.63" x2="582.32" y2="219.97" stroke="#a63a42" stroke-width="1.2" />
<line x1="595.53" y1="209.63" x2="593.02" y2="195.35" stroke="#a8606e" stroke-width="1.7" />
<line x1="595.53" y1="209.63" x2="593.02" y2="195.35" stroke="#6a1e32" stroke-width="1.9" stroke-dasharray="1.2 0.9"/>
<line x1="595.53" y1="209.63" x2="611.62" y2="215.77" stroke="#a63a42" stroke-width="1.2" />
<line x1="615.51" y1="231.85" x2="612.65" y2="215.59" stroke="#33474d" stroke-width="0.95" />
<line x1="613.45" y1="232.21" x2="610.59" y2="215.95" stroke="#33474d" stroke-width="0.95" />
<line x1="614.48" y1="232.03" x2="630.57" y2="238.17" stroke="#33474d" stroke-width="1.15" />
<line x1="633.43" y1="254.43" x2="620.22" y2="264.77" stroke="#a63a42" stroke-width="1.2" />
<line x1="633.43" y1="254.43" x2="630.57" y2="238.17" stroke="#a63a42" stroke-width="1.2" />
<line x1="633.43" y1="254.43" x2="649.52" y2="260.57" stroke="#a63a42" stroke-width="1.2" />
<line x1="653.41" y1="276.65" x2="650.55" y2="260.39" stroke="#33474d" stroke-width="0.95" />
<line x1="651.35" y1="277.01" x2="648.49" y2="260.75" stroke="#33474d" stroke-width="0.95" />
<line x1="652.38" y1="276.83" x2="668.47" y2="282.97" stroke="#33474d" stroke-width="1.15" />
<line x1="671.33" y1="299.23" x2="658.12" y2="309.57" stroke="#a63a42" stroke-width="1.2" />
<line x1="671.33" y1="299.23" x2="668.47" y2="282.97" stroke="#a63a42" stroke-width="1.2" />
<line x1="671.33" y1="299.23" x2="684.88" y2="304.4" stroke="#a8606e" stroke-width="1.7" />
<line x1="671.33" y1="299.23" x2="684.88" y2="304.4" stroke="#6a1e32" stroke-width="1.9" stroke-dasharray="1.2 0.9"/>
<line x1="624.83" y1="205.43" x2="611.62" y2="215.77" stroke="#33474d" stroke-width="1.15" />
<line x1="624.46" y1="206.41" x2="640.55" y2="212.55" stroke="#33474d" stroke-width="0.95" />
<line x1="625.2" y1="204.45" x2="641.29" y2="210.59" stroke="#33474d" stroke-width="0.95" />
<line x1="643.13" y1="227" x2="629.92" y2="237.34" stroke="#33474d" stroke-width="0.95" />
<line x1="644.43" y1="228.66" x2="631.22" y2="239" stroke="#33474d" stroke-width="0.95" />
<line x1="643.78" y1="227.83" x2="640.92" y2="211.57" stroke="#33474d" stroke-width="1.15" />
<line x1="662.73" y1="250.23" x2="649.52" y2="260.57" stroke="#33474d" stroke-width="1.15" />
<line x1="662.36" y1="251.21" x2="678.45" y2="257.35" stroke="#33474d" stroke-width="0.95" />
<line x1="663.1" y1="249.25" x2="679.19" y2="255.39" stroke="#33474d" stroke-width="0.95" />
<line x1="681.03" y1="271.8" x2="667.82" y2="282.14" stroke="#33474d" stroke-width="0.95" />
<line x1="682.33" y1="273.46" x2="669.12" y2="283.8" stroke="#33474d" stroke-width="0.95" />
<line x1="681.68" y1="272.63" x2="678.82" y2="256.37" stroke="#33474d" stroke-width="1.15" />
<line x1="654.13" y1="201.23" x2="640.92" y2="211.57" stroke="#a63a42" stroke-width="1.2" />
<line x1="654.13" y1="201.23" x2="651.62" y2="186.95" stroke="#a8606e" stroke-width="1.7" />
<line x1="654.13" y1="201.23" x2="651.62" y2="186.95" stroke="#6a1e32" stroke-width="1.9" stroke-dasharray="1.2 0.9"/>
<line x1="654.13" y1="201.23" x2="667.68" y2="206.4" stroke="#a8606e" stroke-width="1.7" />
<line x1="654.13" y1="201.23" x2="667.68" y2="206.4" stroke="#6a1e32" stroke-width="1.9" stroke-dasharray="1.2 0.9"/>
<line x1="692.03" y1="246.03" x2="678.82" y2="256.37" stroke="#a63a42" stroke-width="1.2" />
<line x1="692.03" y1="246.03" x2="689.52" y2="231.75" stroke="#a8606e" stroke-width="1.7" />
<line x1="692.03" y1="246.03" x2="689.52" y2="231.75" stroke="#6a1e32" stroke-width="1.9" stroke-dasharray="1.2 0.9"/>
<line x1="692.03" y1="246.03" x2="705.58" y2="251.2" stroke="#a8606e" stroke-width="1.7" />
<line x1="692.03" y1="246.03" x2="705.58" y2="251.2" stroke="#6a1e32" stroke-width="1.9" stroke-dasharray="1.2 0.9"/>
<circle cx="553.02" cy="224.17" r="4.95" fill="url(#gK)"/>
<circle cx="582.32" cy="219.97" r="4.95" fill="url(#gK)"/>
<circle cx="611.62" cy="215.77" r="4.95" fill="url(#gK)"/>
<circle cx="640.92" cy="211.57" r="4.95" fill="url(#gK)"/>
<circle cx="571.97" cy="246.57" r="4.95" fill="url(#gK)"/>
<circle cx="630.57" cy="238.17" r="4.95" fill="url(#gK)"/>
<circle cx="532.32" cy="277.37" r="4.95" fill="url(#gK)"/>
<circle cx="561.62" cy="273.17" r="4.95" fill="url(#gK)"/>
<circle cx="590.92" cy="268.97" r="4.95" fill="url(#gK)"/>
<circle cx="620.22" cy="264.77" r="4.95" fill="url(#gK)"/>
<circle cx="649.52" cy="260.57" r="4.95" fill="url(#gK)"/>
<circle cx="678.82" cy="256.37" r="4.95" fill="url(#gK)"/>
<circle cx="551.27" cy="299.77" r="4.95" fill="url(#gK)"/>
<circle cx="609.87" cy="291.37" r="4.95" fill="url(#gK)"/>
<circle cx="668.47" cy="282.97" r="4.95" fill="url(#gK)"/>
<circle cx="570.22" cy="322.17" r="4.95" fill="url(#gK)"/>
<circle cx="599.52" cy="317.97" r="4.95" fill="url(#gK)"/>
<circle cx="628.82" cy="313.77" r="4.95" fill="url(#gK)"/>
<circle cx="658.12" cy="309.57" r="4.95" fill="url(#gK)"/>
<circle cx="589.17" cy="344.57" r="4.95" fill="url(#gK)"/>
<circle cx="647.77" cy="336.17" r="4.95" fill="url(#gK)"/>
<circle cx="536.93" cy="218.03" r="5.05" fill="url(#gB)"/>
<circle cx="566.23" cy="213.83" r="5.05" fill="url(#gB)"/>
<circle cx="595.53" cy="209.63" r="5.05" fill="url(#gB)"/>
<circle cx="624.83" cy="205.43" r="5.05" fill="url(#gB)"/>
<circle cx="654.13" cy="201.23" r="5.05" fill="url(#gB)"/>
<circle cx="555.88" cy="240.43" r="5.05" fill="url(#gB)"/>
<circle cx="585.18" cy="236.23" r="5.05" fill="url(#gB)"/>
<circle cx="614.48" cy="232.03" r="5.05" fill="url(#gB)"/>
<circle cx="643.78" cy="227.83" r="5.05" fill="url(#gB)"/>
<circle cx="516.23" cy="271.23" r="5.05" fill="url(#gB)"/>
<circle cx="545.53" cy="267.03" r="5.05" fill="url(#gB)"/>
<circle cx="574.83" cy="262.83" r="5.05" fill="url(#gB)"/>
<circle cx="604.13" cy="258.63" r="5.05" fill="url(#gB)"/>
<circle cx="633.43" cy="254.43" r="5.05" fill="url(#gB)"/>
<circle cx="662.73" cy="250.23" r="5.05" fill="url(#gB)"/>
<circle cx="692.03" cy="246.03" r="5.05" fill="url(#gB)"/>
<circle cx="535.18" cy="293.63" r="5.05" fill="url(#gB)"/>
<circle cx="564.48" cy="289.43" r="5.05" fill="url(#gB)"/>
<circle cx="593.78" cy="285.23" r="5.05" fill="url(#gB)"/>
<circle cx="623.08" cy="281.03" r="5.05" fill="url(#gB)"/>
<circle cx="652.38" cy="276.83" r="5.05" fill="url(#gB)"/>
<circle cx="681.68" cy="272.63" r="5.05" fill="url(#gB)"/>
<circle cx="554.13" cy="316.03" r="5.05" fill="url(#gB)"/>
<circle cx="583.43" cy="311.83" r="5.05" fill="url(#gB)"/>
<circle cx="612.73" cy="307.63" r="5.05" fill="url(#gB)"/>
<circle cx="642.03" cy="303.43" r="5.05" fill="url(#gB)"/>
<circle cx="671.33" cy="299.23" r="5.05" fill="url(#gB)"/>
<circle cx="573.08" cy="338.43" r="5.05" fill="url(#gB)"/>
<circle cx="602.38" cy="334.23" r="5.05" fill="url(#gB)"/>
<circle cx="631.68" cy="330.03" r="5.05" fill="url(#gB)"/>
<circle cx="660.98" cy="325.83" r="5.05" fill="url(#gB)"/>
<circle cx="591.8" cy="359.8" r="5.05" fill="url(#gB)"/>
<circle cx="650.8" cy="351.3" r="5.05" fill="url(#gB)"/>
<line x1="509.6" y1="320.5" x2="518.09" y2="292" stroke="#1a1a1a" stroke-width="1.15" stroke-dasharray="3.2 1.3"/>
<path d="M518.8,289.6 L519.31,295.18 L515.33,293.99 Z" fill="#1a1a1a"/>
<line x1="514.8" y1="330.3" x2="553.11" y2="333.02" stroke="#1a1a1a" stroke-width="1.15" stroke-dasharray="3.2 1.3"/>
<path d="M555.6,333.2 L550.27,334.9 L550.56,330.76 Z" fill="#1a1a1a"/>
<line x1="618.4" y1="378.7" x2="593.1" y2="362.26" stroke="#1a1a1a" stroke-width="1.15" stroke-dasharray="3.2 1.3"/>
<path d="M591,360.9 L596.49,361.99 L594.23,365.47 Z" fill="#1a1a1a"/>
<line x1="630.7" y1="375" x2="649.58" y2="357.12" stroke="#1a1a1a" stroke-width="1.15" stroke-dasharray="3.2 1.3"/>
<path d="M651.4,355.4 L649.05,360.48 L646.2,357.47 Z" fill="#1a1a1a"/>
<text x="503.2" y="332.6" font-size="18.5" font-style="italic">a</text>
<text x="621.0" y="386.6" font-size="18.5" font-style="italic">b</text>
</g>
</svg></body></html>
